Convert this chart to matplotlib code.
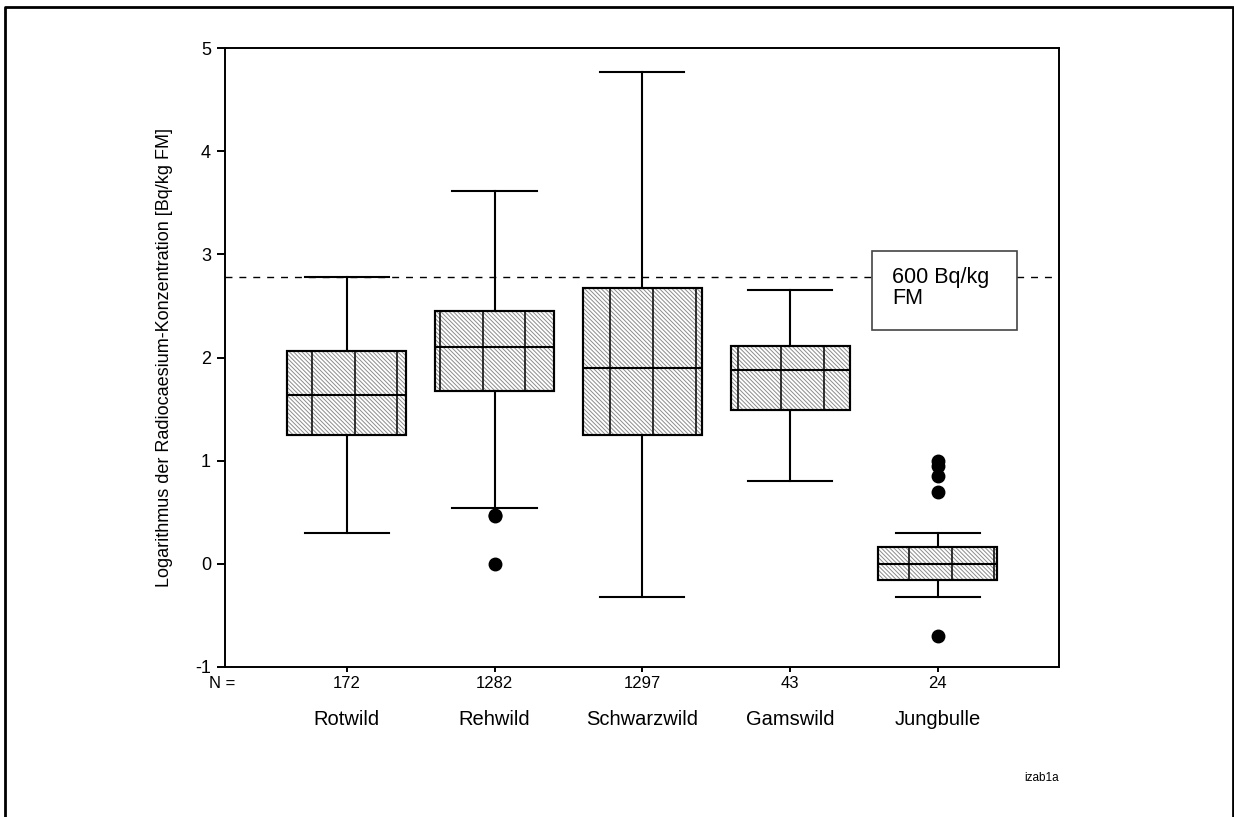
import matplotlib
matplotlib.use('Agg')
import matplotlib.pyplot as plt
from matplotlib.patches import Rectangle
from matplotlib.lines import Line2D
import numpy as np

plt.rcParams['font.family'] = ['Liberation Sans', 'DejaVu Sans']
plt.rcParams['hatch.linewidth'] = 0.7
plt.rcParams['axes.unicode_minus'] = False

# Werte (log10 Bq/kg FM)
tierart = ['Rotwild', 'Rehwild', 'Schwarzwild', 'Gamswild', 'Jungbulle']
n_werte = [172, 1282, 1297, 43, 24]
median = [1.64, 2.10, 1.90, 1.88, 0.00]
q1 = [1.25, 1.68, 1.25, 1.49, -0.16]
q3 = [2.06, 2.45, 2.67, 2.11, 0.16]
whisker_lo = [0.30, 0.54, -0.32, 0.80, -0.32]
whisker_hi = [2.78, 3.61, 4.77, 2.65, 0.30]
ausreisser = [[], [0.47, 0.46, 0.0], [], [], [1.0, 0.95, 0.85, 0.70, -0.70]]
grenzwert = np.log10(600)

stats = []
for i in range(len(tierart)):
    stats.append({'med': median[i], 'q1': q1[i], 'q3': q3[i],
                  'whislo': whisker_lo[i], 'whishi': whisker_hi[i],
                  'fliers': ausreisser[i], 'label': str(n_werte[i])})

fig = plt.figure(figsize=(12.34, 8.17), dpi=100)
ax = fig.add_axes([0.1823, 0.1836, 0.6759, 0.7576])

pos = np.arange(1, len(tierart) + 1)
breite = 0.805
bp = ax.bxp(stats, positions=pos, widths=breite, capwidths=0.57,
            patch_artist=True,
            boxprops=dict(facecolor='white', edgecolor='black', linewidth=1.5),
            medianprops=dict(color='black', linewidth=1.5),
            whiskerprops=dict(color='black', linewidth=1.5),
            capprops=dict(color='black', linewidth=1.5),
            flierprops=dict(marker='o', markerfacecolor='black',
                            markeredgecolor='black', markersize=9))

# Schraffur wie im Original: feine graue Diagonalen + grobe senkrechte Linien
for i, box in enumerate(bp['boxes']):
    box.set_zorder(2)
    r = Rectangle((pos[i] - breite / 2, q1[i]), breite, q3[i] - q1[i],
                  fill=False, hatch='\\' * 8, edgecolor='#8c8c8c',
                  linewidth=0, zorder=2.1)
    ax.add_patch(r)
    for xv in np.arange(0.765, 5.8, 0.2885):
        ln = ax.axvline(xv, color='black', linewidth=1.1, zorder=2.2)
        ln.set_clip_path(box)
for k in ['medians', 'whiskers', 'caps', 'fliers']:
    for a in bp[k]:
        a.set_zorder(3)
for box in bp['boxes']:
    # Rahmen nochmal oben drauf
    ext = box.get_path().get_extents()
    outline = Rectangle(ext.p0, ext.width, ext.height,
                        fill=False, edgecolor='black', linewidth=1.5, zorder=3)
    ax.add_patch(outline)

ax.axhline(grenzwert, color='black', linewidth=1.0, linestyle=(0, (5, 5)), zorder=1)

ax.add_patch(Rectangle((4.555, 2.27), 0.98, 0.76, facecolor='white',
                       edgecolor='#444444', linewidth=1.2, zorder=4))
ax.text(4.69, 2.67, '600 Bq/kg\nFM', fontsize=15.5, va='center', ha='left',
        linespacing=1.0, zorder=5)

ax.set_xlim(0.176, 5.82)
ax.set_ylim(-1, 5)
ax.set_yticks(range(-1, 6))
ax.set_xticks(pos)
ax.set_xticklabels([str(n) for n in n_werte], fontsize=12)
ax.tick_params(axis='y', direction='out', length=6, width=1.4, labelsize=13, pad=4)
ax.tick_params(axis='x', direction='out', length=3.6, width=1.4, pad=3)
for s in ax.spines.values():
    s.set_linewidth(1.4)

ax.text(0.156, -1.163, 'N =', fontsize=12, ha='center', va='center', clip_on=False)
for i, name in enumerate(tierart):
    ax.text(pos[i], -1.51, name, fontsize=14.5, ha='center', va='center', clip_on=False)

fig.text(165 / 1234, 1 - 357.5 / 817,
         'Logarithmus der Radiocaesium-Konzentration [Bq/kg FM]',
         rotation=90, fontsize=13, ha='center', va='center')
fig.text(1059 / 1234, 1 - 778 / 817, 'izab1a', fontsize=8.5, ha='right', va='center')

# äußerer Rahmen (unten offen)
fig.add_artist(Line2D([5 / 1234, 5 / 1234, 1233 / 1234, 1233 / 1234],
                      [0, 1 - 7 / 817, 1 - 7 / 817, 0],
                      transform=fig.transFigure, color='black', linewidth=2))

fig.savefig('out.png', dpi=100)
